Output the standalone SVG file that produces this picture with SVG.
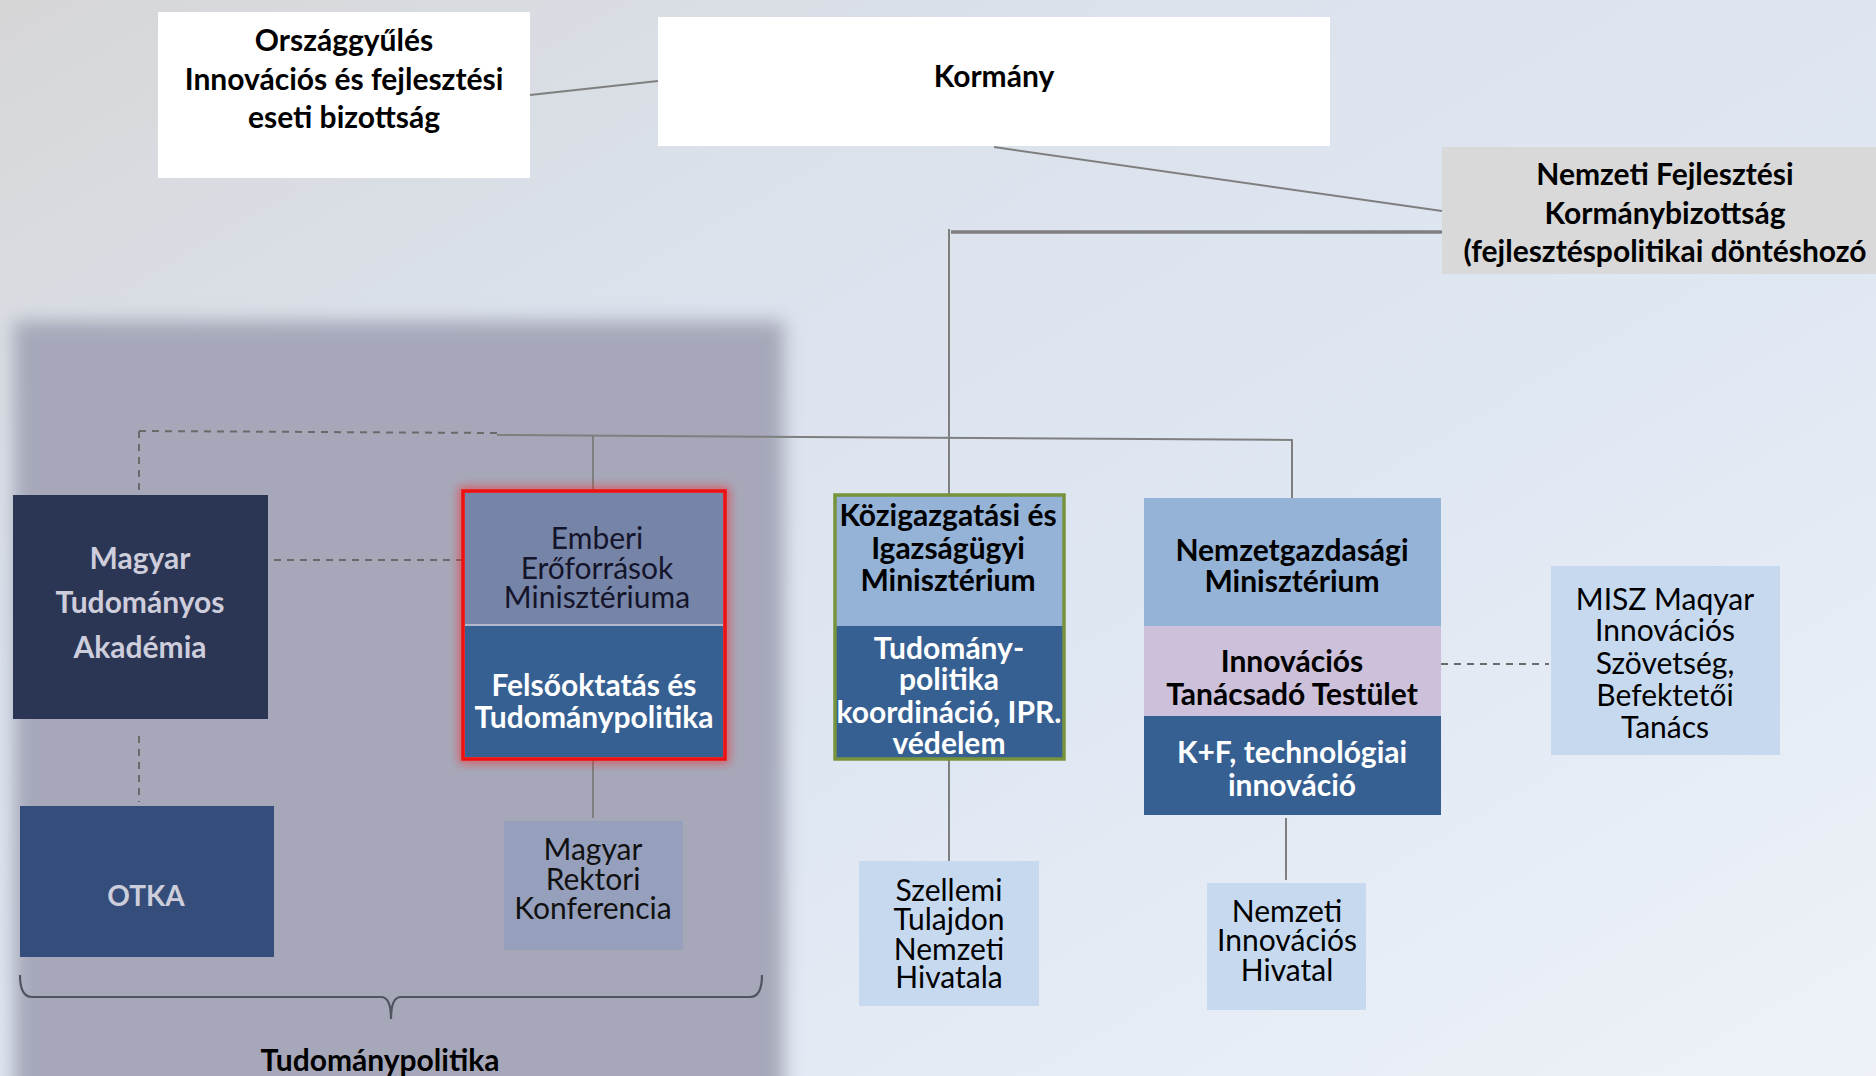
<svg xmlns="http://www.w3.org/2000/svg" width="1876" height="1076" viewBox="0 0 1876 1076">
<defs>
<linearGradient id="bg" x1="0" y1="0" x2="1" y2="1">
<stop offset="0" stop-color="#d6d6d7"/>
<stop offset="0.3" stop-color="#dbe2ec"/>
<stop offset="0.6" stop-color="#dfe7f2"/>
<stop offset="1" stop-color="#eef2f8"/>
</linearGradient>
<filter id="soft" x="-0.1" y="-0.1" width="1.2" height="1.2"><feGaussianBlur stdDeviation="9"/></filter>
<filter id="glow" x="-0.2" y="-0.2" width="1.4" height="1.4"><feGaussianBlur stdDeviation="5"/></filter>
<style>
text{font-family:Lato,"Open Sans","Liberation Sans",sans-serif;text-anchor:middle;dominant-baseline:central}
.b{font-weight:bold}
.t27{font-size:30px}
.blk{fill:#000}
.wht{fill:#fff}
.lav{fill:#cdcddb}
.ln{stroke:#7f7f7f;stroke-width:2;fill:none}
.dash{stroke:#6a6a6a;stroke-width:2;stroke-dasharray:7 6;fill:none}
</style>
</defs>
<rect x="0" y="0" width="1876" height="1076" fill="url(#bg)"/>
<g id="panel">
<rect x="14" y="321" width="770" height="780" fill="#a6a8b9" filter="url(#soft)"/>
</g>
<g id="connectors">
<line class="ln" x1="530" y1="95" x2="658" y2="81"/>
<line class="ln" x1="994" y1="147" x2="1442" y2="211"/>
<line x1="951" y1="232" x2="1442" y2="232" stroke="#7f7f7f" stroke-width="3.5"/>
<line class="ln" x1="949" y1="229" x2="949" y2="494"/>
<line class="dash" x1="139" y1="431" x2="497" y2="433"/>
<line class="ln" x1="497" y1="435" x2="1293" y2="440"/>
<line class="ln" x1="593" y1="436" x2="593" y2="491"/>
<line class="ln" x1="1292" y1="440" x2="1292" y2="500"/>
<line class="dash" x1="139" y1="431" x2="139" y2="494"/>
<line class="dash" x1="274" y1="560" x2="463" y2="560"/>
<line class="dash" x1="139" y1="736" x2="139" y2="802"/>
<line class="ln" x1="593" y1="759" x2="593" y2="818"/>
<line class="ln" x1="949" y1="760" x2="949" y2="861"/>
<line class="ln" x1="1286" y1="818" x2="1286" y2="880"/>
<line class="dash" x1="1441" y1="664" x2="1549" y2="664"/>
<path d="M20 975 Q20 997 32 997 L381 997 Q391 997 391 1019 Q391 997 401 997 L750 997 Q762 997 762 975" stroke="#4f5560" stroke-width="2.2" fill="none"/>
</g>
<g id="orszaggyules">
<rect x="158" y="12" width="372" height="166" fill="#fff"/>
<text class="b t27 blk" x="344" y="39">Országgyűlés</text>
<text class="b t27 blk" x="344" y="78">Innovációs és fejlesztési</text>
<text class="b t27 blk" x="344" y="116">eseti bizottság</text>
</g>
<g id="kormany">
<rect x="658" y="17" width="672" height="129" fill="#fff"/>
<text class="b t27 blk" x="994" y="75">Kormány</text>
</g>
<g id="nfk">
<rect x="1442" y="147" width="434" height="127" fill="#d9d9d9"/>
<text class="b t27 blk" x="1665" y="173">Nemzeti Fejlesztési</text>
<text class="b t27 blk" x="1665" y="212">Kormánybizottság</text>
<text class="b t27 blk" x="1665" y="250">(fejlesztéspolitikai döntéshozó</text>
</g>
<g id="mta">
<rect x="13" y="495" width="255" height="224" fill="#2b3655"/>
<text class="b t27 lav" x="140" y="557">Magyar</text>
<text class="b t27 lav" x="140" y="601">Tudományos</text>
<text class="b t27 lav" x="140" y="646">Akadémia</text>
</g>
<g id="otka">
<rect x="20" y="806" width="254" height="151" fill="#344d7a"/>
<text class="b lav" x="146" y="895" font-size="28">OTKA</text>
</g>
<g id="emmi">
<rect x="463" y="491" width="262" height="268" fill="none" stroke="#ff1a1a" stroke-width="8" opacity="0.6" filter="url(#glow)"/>
<rect x="465" y="493" width="258" height="131" fill="#7684a8"/>
<rect x="465" y="626" width="258" height="131" fill="#365f92"/>
<line x1="465" y1="625" x2="723" y2="625" stroke="#b3b8cc" stroke-width="2"/>
<rect x="463" y="491" width="262" height="268" fill="none" stroke="#ee1111" stroke-width="3.5"/>
<text class="t27" x="597" y="537" fill="#14142a">Emberi</text>
<text class="t27" x="597" y="567" fill="#14142a">Erőforrások</text>
<text class="t27" x="597" y="596" fill="#14142a">Minisztériuma</text>
<text class="b t27 wht" x="594" y="684">Felsőoktatás és</text>
<text class="b t27 wht" x="594" y="716">Tudománypolitika</text>
</g>
<g id="mrk">
<rect x="504" y="821" width="179" height="129" fill="#96a0bc"/>
<text class="t27" x="593" y="848" fill="#111">Magyar</text>
<text class="t27" x="593" y="878" fill="#111">Rektori</text>
<text class="t27" x="593" y="907" fill="#111">Konferencia</text>
</g>
<g id="kim">
<rect x="835" y="495" width="229" height="131" fill="#95b3d7"/>
<rect x="835" y="626" width="229" height="133" fill="#365f92"/>
<rect x="835" y="495" width="229" height="264" fill="none" stroke="#77933c" stroke-width="3.5"/>
<text class="b t27 blk" x="948" y="514">Közigazgatási és</text>
<text class="b t27 blk" x="948" y="547">Igazságügyi</text>
<text class="b t27 blk" x="948" y="579">Minisztérium</text>
<text class="b t27 wht" x="949" y="647">Tudomány-</text>
<text class="b t27 wht" x="949" y="678">politika</text>
<text class="b t27 wht" x="949" y="711">koordináció, IPR.</text>
<text class="b t27 wht" x="949" y="742">védelem</text>
</g>
<g id="sztnh">
<rect x="859" y="861" width="180" height="145" fill="#c6d9ef"/>
<text class="t27 blk" x="949" y="889">Szellemi</text>
<text class="t27 blk" x="949" y="918">Tulajdon</text>
<text class="t27 blk" x="949" y="948">Nemzeti</text>
<text class="t27 blk" x="949" y="976">Hivatala</text>
</g>
<g id="ngm">
<rect x="1144" y="498" width="297" height="128" fill="#95b3d7"/>
<rect x="1144" y="626" width="297" height="90" fill="#ccc0da"/>
<rect x="1144" y="716" width="297" height="99" fill="#365f92"/>
<text class="b t27 blk" x="1292" y="549">Nemzetgazdasági</text>
<text class="b t27 blk" x="1292" y="580">Minisztérium</text>
<text class="b t27 blk" x="1292" y="660">Innovációs</text>
<text class="b t27 blk" x="1292" y="693">Tanácsadó Testület</text>
<text class="b t27 wht" x="1292" y="751">K+F, technológiai</text>
<text class="b t27 wht" x="1292" y="784">innováció</text>
</g>
<g id="misz">
<rect x="1551" y="566" width="229" height="189" fill="#c6d9ef"/>
<text class="t27 blk" x="1665" y="598">MISZ Maqyar</text>
<text class="t27 blk" x="1665" y="629">Innovációs</text>
<text class="t27 blk" x="1665" y="662">Szövetség,</text>
<text class="t27 blk" x="1665" y="694">Befektetői</text>
<text class="t27 blk" x="1665" y="726">Tanács</text>
</g>
<g id="nih">
<rect x="1207" y="883" width="159" height="127" fill="#c6d9ef"/>
<text class="t27 blk" x="1287" y="910">Nemzeti</text>
<text class="t27 blk" x="1287" y="939">Innovációs</text>
<text class="t27 blk" x="1287" y="969">Hivatal</text>
</g>
<g id="label">
<text class="b blk" x="380" y="1059" font-size="30">Tudománypolitika</text>
</g>
</svg>
